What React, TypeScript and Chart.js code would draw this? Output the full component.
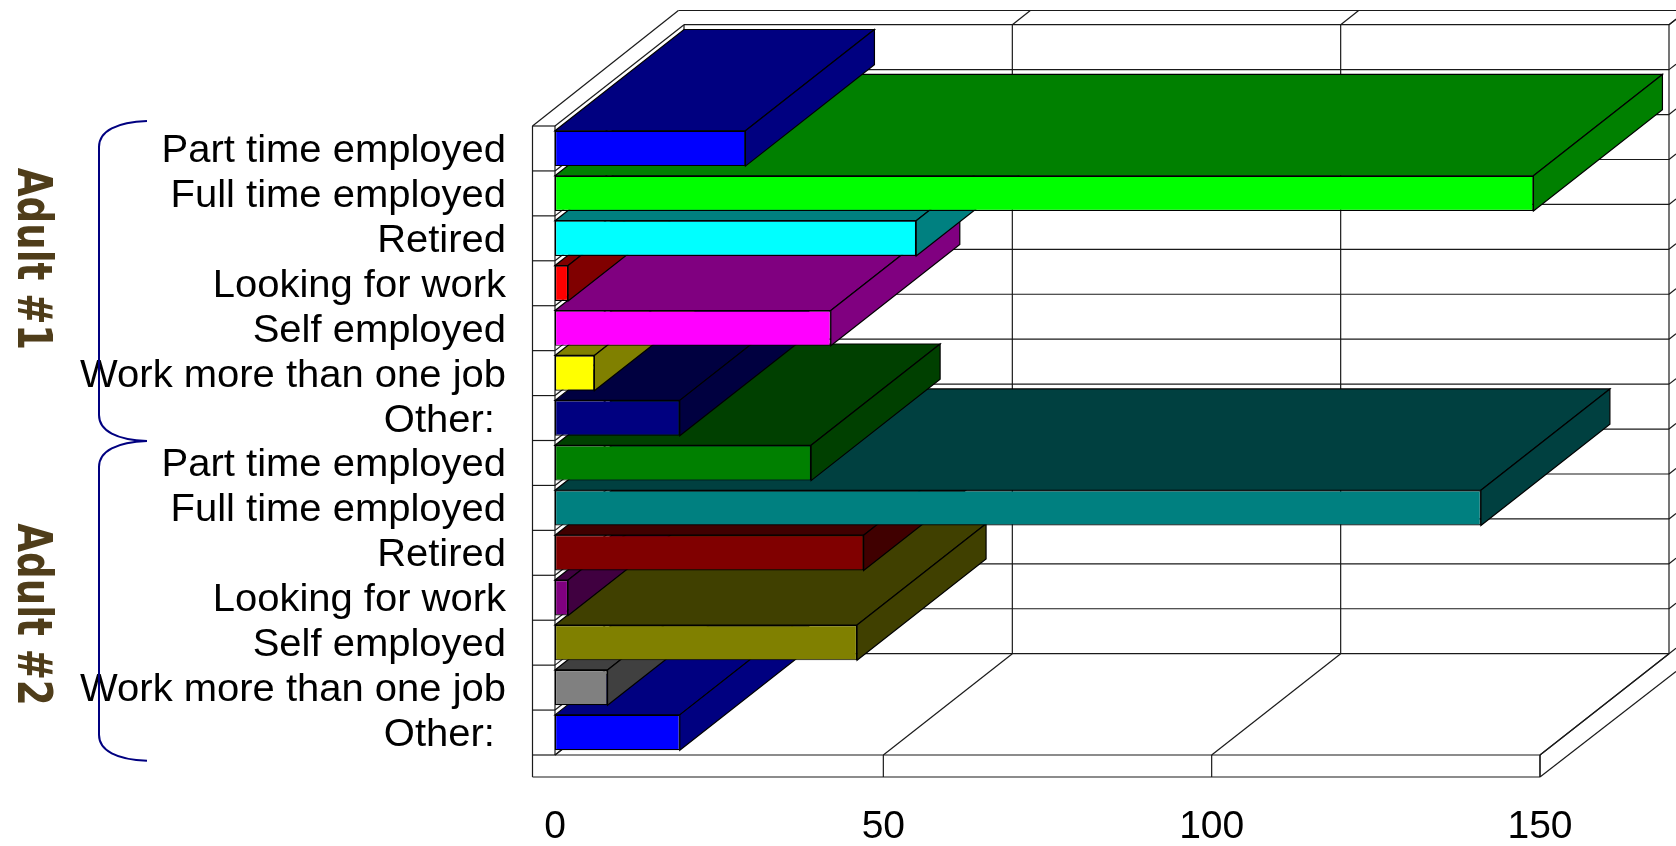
import React, { useEffect, useRef } from "react";
import { Chart, registerables } from "chart.js";

Chart.register(...registerables);

const categories = [
  "Part time employed", "Full time employed", "Retired", "Looking for work", "Self employed", "Work more than one job", "Other: ",
  "Part time employed", "Full time employed", "Retired", "Looking for work", "Self employed", "Work more than one job", "Other: ",
];
const values = [29, 149, 55, 2, 42, 6, 19, 39, 141, 47, 2, 46, 8, 19];
const frontColors = [
  "#0000ff", "#00ff00", "#00ffff", "#ff0000", "#ff00ff", "#ffff00", "#000080",
  "#008000", "#008080", "#800000", "#800080", "#808000", "#808080", "#0000ff",
];
const shadeColors = [
  "#000080", "#008000", "#008080", "#800000", "#800080", "#808000", "#000040",
  "#004000", "#004040", "#400000", "#400040", "#404000", "#404040", "#000080",
];
const xTicks = [0, 50, 100, 150];
const groups = [
  { label: "Adult #1", first: 0, last: 6, textY: 259, tipTop: -5, tipBottom: 0.5 },
  { label: "Adult #2", first: 7, last: 13, textY: 614.5, tipTop: 0.5, tipBottom: 5.7 },
];

const DX = 129;
const DY = 101.3;
const LINE = "#1a1a1a";
const LABEL_RIGHT = 506;
const LABEL_STRETCH = 1.052;

function seg(ctx: CanvasRenderingContext2D, x1: number, y1: number, x2: number, y2: number) {
  ctx.beginPath();
  ctx.moveTo(x1, y1);
  ctx.lineTo(x2, y2);
  ctx.stroke();
}

function poly(ctx: CanvasRenderingContext2D, pts: number[][], fill: string) {
  ctx.beginPath();
  pts.forEach((p, i) => (i ? ctx.lineTo(p[0], p[1]) : ctx.moveTo(p[0], p[1])));
  ctx.closePath();
  ctx.fillStyle = fill;
  ctx.fill();
  ctx.strokeStyle = "#000";
  ctx.lineWidth = 1.2;
  ctx.stroke();
}

const framePlugin = {
  id: "frame3d",
  afterLayout(chart: any) {
    const s = chart.scales.y;
    if (s.__stretched) return;
    s.__stretched = true;
    const orig = s.drawLabels;
    s.drawLabels = function (area: any) {
      const ctx = s.ctx;
      ctx.save();
      ctx.translate(LABEL_RIGHT, 3);
      ctx.scale(LABEL_STRETCH, 1);
      ctx.translate(-LABEL_RIGHT, 0);
      orig.call(s, area);
      ctx.restore();
    };
  },
  beforeDatasetsDraw(chart: any) {
    const { ctx, chartArea: a, scales } = chart;
    const step = (a.bottom - a.top) / categories.length;
    const WALL_X = 22.5;
    const WALL_Y = 22;
    const cw = chart.width;
    ctx.save();
    ctx.strokeStyle = LINE;
    ctx.lineWidth = 1.2;
    // outer shell
    seg(ctx, a.left - WALL_X, a.top, a.left - WALL_X, a.bottom + WALL_Y);
    seg(ctx, a.left - WALL_X, a.bottom + WALL_Y, a.right, a.bottom + WALL_Y);
    seg(ctx, a.left, a.bottom, a.right, a.bottom);
    seg(ctx, a.left, a.top, a.left, a.bottom);
    seg(ctx, a.right, a.bottom, a.right, a.bottom + WALL_Y);
    seg(ctx, a.left - WALL_X, a.top, a.left + DX - 5.6, a.top - DY - 14.2);
    seg(ctx, a.left + DX - 5.6, a.top - DY - 14.2, cw, a.top - DY - 14.2);
    seg(ctx, a.right, a.bottom + WALL_Y, a.right + 136, a.bottom + WALL_Y - 105.6);
    seg(ctx, a.left, a.bottom, a.left + DX, a.bottom - DY);
    seg(ctx, a.right, a.bottom, a.right + DX, a.bottom - DY);
    // category grid: left wall, floor diagonal, back wall, right stubs
    for (let i = 0; i <= categories.length; i++) {
      const y = a.top + i * step;
      seg(ctx, a.left - WALL_X, y, a.left, y);
      seg(ctx, a.left, y, a.left + DX, y - DY);
      seg(ctx, a.left + DX, y - DY, a.right + DX, y - DY);
      seg(ctx, a.right + DX, y - DY, cw, y - DY - 5.5);
    }
    // value grid
    xTicks.forEach((t) => {
      const x = scales.x.getPixelForValue(t);
      seg(ctx, x + DX, a.top - DY, x + DX, a.bottom - DY);
      if (t > 0) {
        seg(ctx, x + DX, a.top - DY, x + DX + 18, a.top - DY - 14.2);
        seg(ctx, x, a.bottom, x + DX, a.bottom - DY);
        seg(ctx, x, a.bottom, x, a.bottom + WALL_Y);
      }
    });
    ctx.restore();
  },
  beforeDatasetDraw(chart: any, args: any) {
    const { ctx } = chart;
    const bars = args.meta.data;
    ctx.save();
    for (let i = bars.length - 1; i >= 0; i--) {
      const b = bars[i];
      const top = b.y - b.height / 2;
      const bot = b.y + b.height / 2;
      const x0 = b.base;
      const x1 = b.x;
      poly(ctx, [[x0, top], [x0 + DX, top - DY], [x1 + DX, top - DY], [x1, top]], shadeColors[i]);
      poly(ctx, [[x1, top], [x1 + DX, top - DY], [x1 + DX, bot - DY], [x1, bot]], shadeColors[i]);
      b.draw(ctx, chart.chartArea);
    }
    ctx.restore();
    return false;
  },
  afterDraw(chart: any) {
    const { ctx, chartArea: a } = chart;
    const step = (a.bottom - a.top) / categories.length;
    ctx.save();
    groups.forEach((g) => {
      const y0 = a.top + g.first * step + g.tipTop;
      const y1 = a.top + (g.last + 1) * step + g.tipBottom;
      const xTip = 147;
      const xBar = 99;
      ctx.strokeStyle = "#000080";
      ctx.lineWidth = 2;
      ctx.beginPath();
      ctx.moveTo(xTip, y0);
      ctx.bezierCurveTo(xBar + 18, y0 + 1, xBar, y0 + 10, xBar, y0 + 26);
      ctx.lineTo(xBar, y1 - 26);
      ctx.bezierCurveTo(xBar, y1 - 10, xBar + 18, y1 - 1, xTip, y1);
      ctx.stroke();
      ctx.save();
      ctx.translate(30, g.textY);
      ctx.rotate(Math.PI / 2);
      ctx.scale(0.775, 1);
      ctx.fillStyle = "#4f3d1a";
      ctx.font = "bold 48px 'DejaVu Sans'";
      ctx.textAlign = "center";
      ctx.textBaseline = "middle";
      ctx.fillText(g.label, 0, 0);
      ctx.restore();
    });
    ctx.restore();
  },
};

export default function App() {
  const ref = useRef<HTMLCanvasElement>(null);
  useEffect(() => {
    document.body.style.margin = "0";
    const chart = new Chart(ref.current!, {
      type: "bar",
      data: {
        labels: categories,
        datasets: [
          {
            data: values,
            backgroundColor: frontColors,
            borderColor: "#000",
            borderWidth: 1.2,
            borderSkipped: false,
            barPercentage: 0.786,
            categoryPercentage: 1,
          },
        ],
      },
      options: {
        indexAxis: "y",
        responsive: false,
        animation: false,
        layout: { padding: { top: 126, right: 136, left: 0, bottom: 0 } },
        plugins: { legend: { display: false }, tooltip: { enabled: false }, title: { display: false } },
        scales: {
          x: {
            type: "linear",
            min: 0,
            max: 150,
            afterFit: (s: any) => { s.height = 91; },
            afterBuildTicks: (s: any) => { s.ticks = xTicks.map((value) => ({ value })); },
            grid: { display: false, drawTicks: false },
            border: { display: false },
            ticks: { color: "#000", padding: 49, maxRotation: 0, font: { family: "'Liberation Sans'", size: 39 } },
          },
          y: {
            type: "category",
            afterFit: (s: any) => { s.width = 555; },
            grid: { display: false, drawTicks: false },
            border: { display: false },
            ticks: { color: "#000", padding: 49, autoSkip: false, font: { family: "'Liberation Sans'", size: 38 } },
          },
        },
      },
      plugins: [framePlugin],
    } as any);
    return () => chart.destroy();
  }, []);
  return <canvas ref={ref} width={1676} height={846} style={{ display: "block" }} />;
}
